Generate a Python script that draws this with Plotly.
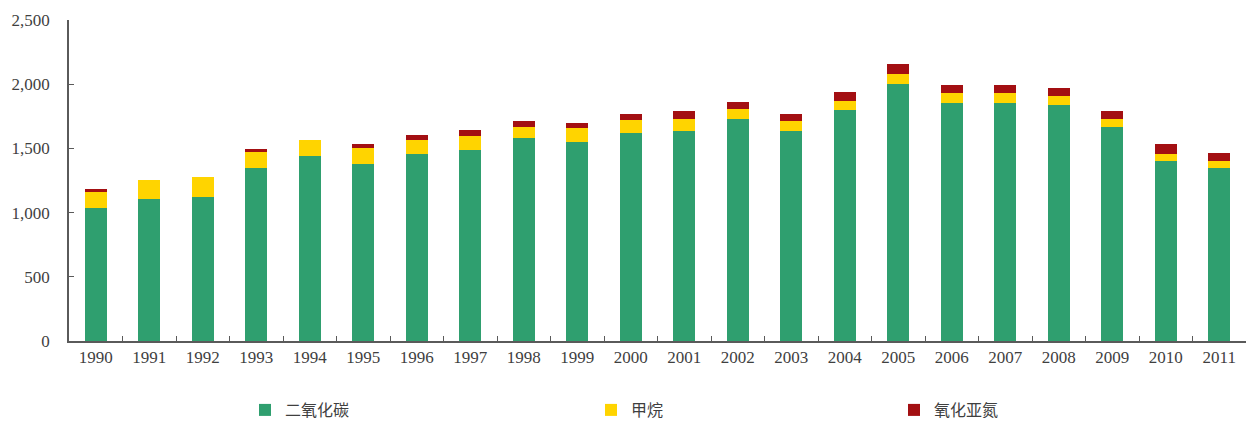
import plotly.graph_objects as go

years = [str(y) for y in range(1990, 2012)]
co2 = [1035, 1105, 1123, 1346, 1442, 1379, 1458, 1489, 1583, 1549, 1617,
       1635, 1726, 1638, 1800, 1998, 1857, 1857, 1836, 1669, 1403, 1348]
ch4 = [125, 151, 152, 127, 125, 126, 109, 107, 86, 107, 103,
       97, 79, 73, 73, 81, 76, 74, 73, 61, 52, 52]
n2o = [23, 0, 0, 24, 0, 31, 40, 47, 45, 42, 48,
       57, 58, 58, 68, 76, 58, 60, 63, 62, 81, 66]
names = ["二氧化碳", "甲烷", "氧化亚氮"]
colors = ["#2f9f6f", "#ffd400", "#a30f12"]
y_ticks = [0, 500, 1000, 1500, 2000, 2500]
y_labels = ["0", "500", "1,000", "1,500", "2,000", "2,500"]

font_fam = "Liberation Serif, Noto Sans CJK SC, serif"
txt = "#3f3f3f"

fig = go.Figure()
for i, (nm, vals, col) in enumerate(zip(names, [co2, ch4, n2o], colors)):
    fig.add_trace(go.Bar(
        x=years, y=vals, name=nm, showlegend=True,
        marker=dict(color=col, line=dict(width=0)),
        legend="legend" if i == 0 else f"legend{i+1}",
    ))

leg_common = dict(orientation="h", xref="container", yref="container",
                  yanchor="middle", xanchor="left", y=0.033,
                  font=dict(family=font_fam, size=16, color=txt),
                  bgcolor="rgba(0,0,0,0)")

fig.update_layout(
    showlegend=True,
    barmode="stack",
    bargap=0.58,
    width=1253, height=424,
    margin=dict(l=69, r=7, t=20, b=83),
    paper_bgcolor="white",
    plot_bgcolor="white",
    font=dict(family=font_fam, size=17, color=txt),
    legend=dict(x=245 / 1253, **leg_common),
    legend2=dict(x=591 / 1253, **leg_common),
    legend3=dict(x=894 / 1253, **leg_common),
    xaxis=dict(
        type="category", showline=True, linecolor="#5a5a5a", linewidth=1.5,
        ticks="inside", tickson="boundaries", ticklen=5, tickcolor="#5a5a5a",
        showgrid=False, tickfont=dict(family=font_fam, size=17, color=txt),
    ),
    yaxis=dict(
        range=[0, 2500], tickvals=y_ticks, ticktext=y_labels,
        showline=True, linecolor="#5a5a5a", linewidth=1.5,
        ticks="inside", ticklen=5, tickcolor="#5a5a5a",
        showgrid=False, zeroline=False, ticklabelstandoff=14,
        tickfont=dict(family=font_fam, size=17, color=txt),
    ),
)

fig.write_html("out.html")
